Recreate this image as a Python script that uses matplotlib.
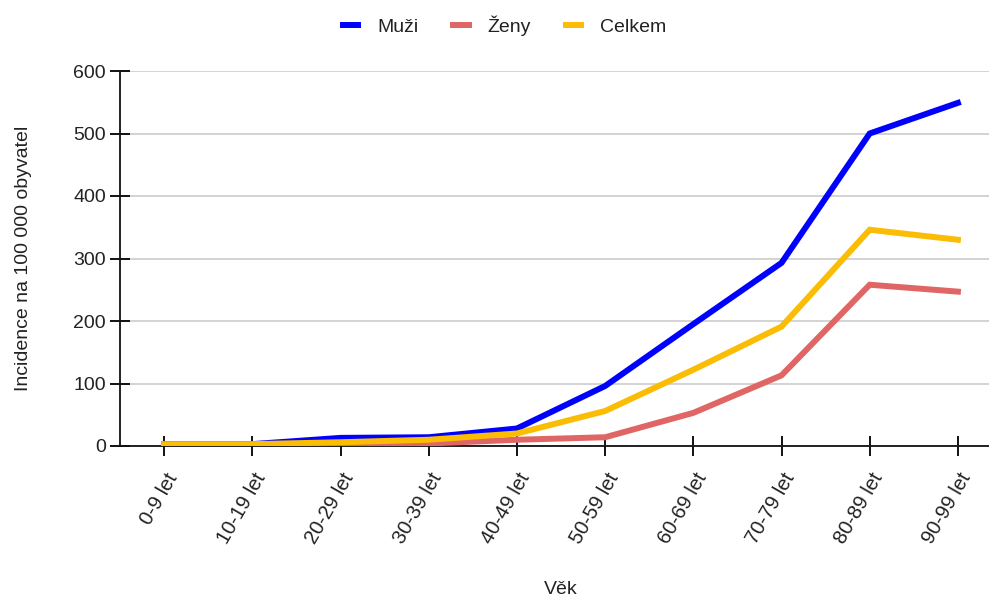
import matplotlib.pyplot as plt
import matplotlib.transforms as mtransforms
import numpy as np

plt.rcParams['font.family'] = ['Liberation Sans', 'DejaVu Sans']

vek = ['0-9 let', '10-19 let', '20-29 let', '30-39 let', '40-49 let',
       '50-59 let', '60-69 let', '70-79 let', '80-89 let', '90-99 let']
muzi = [3, 3, 13, 14, 28, 96, 195, 293, 500, 549]
zeny = [2, 2, 3, 4, 10, 14, 53, 113, 258, 247]
celkem = [3, 3, 6, 10, 20, 56, 122, 191, 346, 330]

fig = plt.figure(figsize=(9.89, 6.01), dpi=100)
# axes placed in pixel terms of the reference
ax = fig.add_axes([120 / 989, 1 - 446 / 601, 882 / 989, 375 / 601])

x = np.arange(len(vek))
ax.plot(x, muzi, color='#0000ff', lw=4.3, label='Muži', solid_joinstyle='miter', zorder=3)
ax.plot(x, zeny, color='#e06666', lw=4.3, label='Ženy', solid_joinstyle='miter', zorder=3)
ax.plot(x, celkem, color='#fbbc04', lw=4.3, label='Celkem', solid_joinstyle='miter', zorder=4)

ax.set_xlim(-0.5, 9.5)
ax.set_ylim(0, 600)
ax.set_yticks(range(0, 601, 100))
ax.set_xticks(x)
ax.yaxis.grid(True, color='#cccccc', lw=1.2)
ax.set_axisbelow(True)

for s in ['top', 'right']:
    ax.spines[s].set_visible(False)
ax.spines['left'].set_color('#111111')
ax.spines['bottom'].set_color('#111111')
ax.spines['left'].set_linewidth(1.3)
ax.spines['bottom'].set_linewidth(1.3)
ax.tick_params(direction='inout', length=14, width=1.4, color='#111111',
               labelsize=14, labelcolor='#222222', pad=3)
ax.tick_params(axis='x', pad=2)

# tick labels last, tick_params resets the label transforms
ax.set_xticklabels(vek, rotation=60, ha='right', va='center', rotation_mode='anchor',
                   fontsize=14.5)
shift = mtransforms.ScaledTranslation(9 / 100, -16 / 100, fig.dpi_scale_trans)
for lbl in ax.get_xticklabels():
    lbl.set_transform(lbl.get_transform() + shift)

ax.set_xlabel('Věk', fontsize=14, color='#222222')
ax.xaxis.set_label_coords(0.5, -(581 - 446) / 375)
ax.set_ylabel('Incidence na 100 000 obyvatel', fontsize=14, color='#222222')
ax.yaxis.set_label_coords(-(120 - 32) / 882, 0.5)

fig.legend(loc='upper center', bbox_to_anchor=(0.51, 1.003), ncol=3, frameon=False,
           fontsize=14, handlelength=0.8, handletextpad=0.95, columnspacing=1.8,
           labelcolor='#222222')

fig.savefig('out.png', dpi=100)
